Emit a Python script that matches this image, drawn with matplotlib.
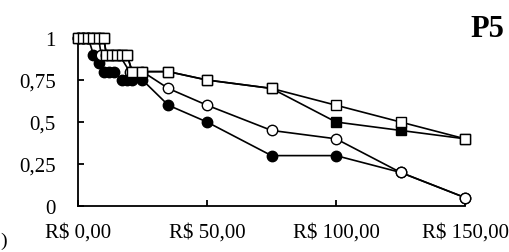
import matplotlib
matplotlib.use("Agg")
import matplotlib.pyplot as plt

plt.rcParams['font.family'] = ['Liberation Serif', 'DejaVu Serif']

# Open squares
sq_open_x = [0, 2, 4, 6, 8, 10, 11, 13, 15, 17, 19, 21, 25, 35, 50, 75, 100, 125, 150]
sq_open_y = [1, 1, 1, 1, 1, 1, 0.9, 0.9, 0.9, 0.9, 0.9, 0.8, 0.8, 0.8, 0.75, 0.7, 0.6, 0.5, 0.4]
# Filled squares
sq_fill_x = [0, 2, 4, 6, 8, 10, 11, 13, 15, 17, 19, 21, 25, 35, 50, 75, 100, 125, 150]
sq_fill_y = [1, 1, 1, 1, 1, 1, 0.9, 0.9, 0.9, 0.9, 0.9, 0.8, 0.8, 0.8, 0.75, 0.7, 0.5, 0.45, 0.4]
# Open circles
ci_open_x = [0, 2, 4, 6, 8, 9, 11, 13, 16, 20, 25, 35, 50, 75, 100, 125, 150]
ci_open_y = [1, 1, 1, 1, 1, 0.9, 0.9, 0.9, 0.9, 0.8, 0.8, 0.7, 0.6, 0.45, 0.4, 0.2, 0.05]
# Filled circles
ci_fill_x = [0, 2, 4, 6, 8, 10, 12, 14, 17, 19, 21, 25, 35, 50, 75, 100, 125, 150]
ci_fill_y = [1, 1, 1, 0.9, 0.85, 0.8, 0.8, 0.8, 0.75, 0.75, 0.75, 0.75, 0.6, 0.5, 0.3, 0.3, 0.2, 0.05]

x_ticks = [0, 50, 100, 150]
x_labels = ["R$ 0,00", "R$ 50,00", "R$ 100,00", "R$ 150,00"]
y_ticks = [0, 0.25, 0.5, 0.75, 1]
y_labels = ["0", "0,25", "0,5", "0,75", "1"]

fig = plt.figure(figsize=(5.09, 2.53), dpi=100)
ax = fig.add_axes([0.1532, 0.1818, 0.7604, 0.664])

lw = 1.2
ms = 7.5
ax.plot(ci_fill_x, ci_fill_y, color='black', lw=lw, marker='o', ms=ms,
        mfc='black', mec='black', mew=1.0, clip_on=False, zorder=3)
ax.plot(ci_open_x, ci_open_y, color='black', lw=lw, marker='o', ms=ms,
        mfc='white', mec='black', mew=1.0, clip_on=False, zorder=4)
ax.plot(sq_fill_x, sq_fill_y, color='black', lw=lw, marker='s', ms=ms,
        mfc='black', mec='black', mew=1.0, clip_on=False, zorder=5)
ax.plot(sq_open_x, sq_open_y, color='black', lw=lw, marker='s', ms=ms,
        mfc='white', mec='black', mew=1.0, clip_on=False, zorder=6)

ax.set_xlim(0, 150)
ax.set_ylim(0, 1)
ax.set_xticks(x_ticks)
ax.set_xticklabels(x_labels)
ax.set_yticks(y_ticks)
ax.set_yticklabels(y_labels)
for s in ['top', 'right']:
    ax.spines[s].set_visible(False)
for s in ['left', 'bottom']:
    ax.spines[s].set_linewidth(1.3)
ax.tick_params(axis='both', direction='in', length=4, width=1.3, labelsize=15)
ax.tick_params(axis='x', pad=12)
ax.tick_params(axis='y', pad=16)

fig.text(0.99, 0.885, "P5", fontsize=22, fontweight='bold', ha='right', va='center')
fig.text(0.0, 0.045, ")", fontsize=14, ha='left', va='center')

fig.savefig("out.png", dpi=100)
